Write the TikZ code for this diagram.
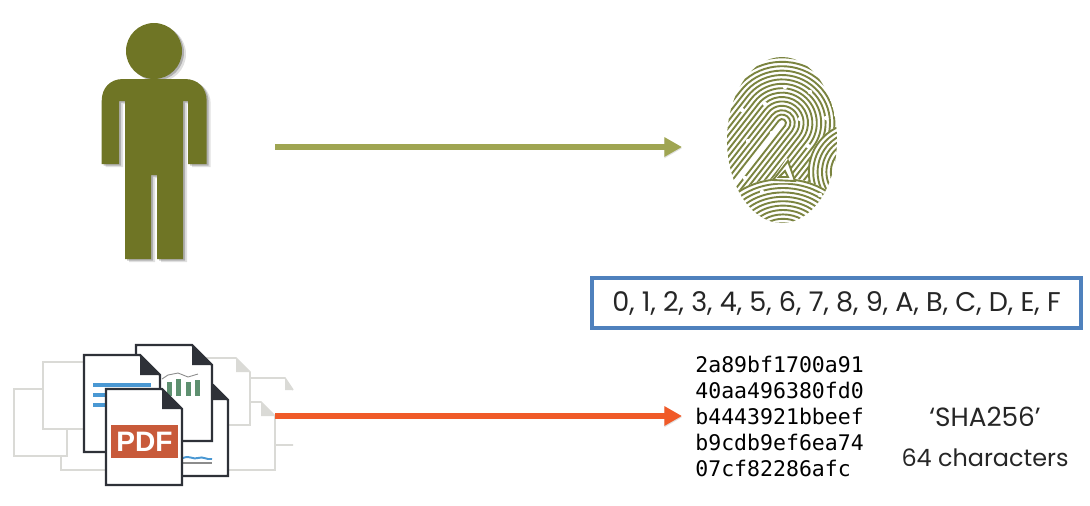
\documentclass[tikz,border=0pt]{standalone}
\usepackage{fontspec}
\setmainfont{Poppins}
\newfontfamily\hashfont{DejaVu Sans Mono}
\newfontfamily\badgefont{Liberation Sans}
\usetikzlibrary{arrows.meta,shadows}

\definecolor{olivebody}{HTML}{6F7525}
\definecolor{ridgegreen}{HTML}{7B8440}
\definecolor{arrowgreen}{HTML}{9FA552}
\definecolor{arroworange}{HTML}{F05A28}
\definecolor{boxblue}{HTML}{4F81BD}
\definecolor{pagegrey}{HTML}{DADAD6}
\definecolor{pagedark}{HTML}{2E3138}
\definecolor{pdfred}{HTML}{C85A3A}
\definecolor{barblue}{HTML}{4A98D3}
\definecolor{bargreen}{HTML}{5E9070}

% style, left, top, right, bottom, fold
\newcommand{\docpage}[6]{%
  \draw [#1] (#2,#3) -- (#4-#6,#3) -- (#4,#3+#6) -- (#4,#5) -- (#2,#5) -- cycle;
  \fill [#1, draw=none, fill=foldcolor] (#4-#6,#3) -- (#4-#6,#3+#6) -- (#4,#3+#6) -- cycle;
}
\newcommand{\personshape}{%
  (101.7,164) -- (101.7,101) .. controls (101.7,88) and (110,79) .. (123,79)
  -- (185,79) .. controls (198,79) and (206.7,88) .. (206.7,101)
  -- (206.7,164) -- (188,164) -- (188,101) -- (183,101) -- (183,259)
  -- (157,259) -- (157,175) -- (151,175) -- (151,259) -- (125,259)
  -- (125,101) -- (119,101) -- (119,164) -- cycle
  (154,51) circle [radius=28]
}

\begin{document}
\begin{tikzpicture}[x=0.02cm, y=-0.02cm]

    \tikzset{flowarrow/.style={%
      line width=3.2pt,%
      -{Triangle[length=10pt,width=10.5pt]},%
      preaction={draw=black!35, opacity=0.35,%
        transform canvas={yshift=-0.8pt}}}%
    };
    \tikzset{greypage/.style={draw=pagegrey, fill=white, line width=0.9pt}};
    \tikzset{darkpage/.style={draw=pagedark, fill=white, line width=1.3pt}};
    \tikzset{ridge/.style={draw=ridgegreen, line width=1.08pt}};
    \tikzset{label/.style={font=\fontsize{13.6}{16}\selectfont, inner sep=0pt, text=black!85}};
    \colorlet{foldcolor}{pagegrey}

    \useasboundingbox (0,0) rectangle (1090,505);

    %%%%%%%%%%%%%%%
    %   person    %
    %%%%%%%%%%%%%%%
    \fill [black, opacity=0.12] [shift={(4,3)}] \personshape;
    \fill [black, opacity=0.22] [shift={(2,1.5)}] \personshape;
    \fill [olivebody] \personshape;

    %%%%%%%%%%%%%%%
    % fingerprint %
    %%%%%%%%%%%%%%%
    \begin{scope}
      \clip (782,140) ellipse [x radius=55, y radius=83];
      \begin{scope}[shift={(782,123)}, rotate=52]
        \foreach \r in {4,8.4,...,68}
          \draw [ridge] (-200,\r) -- (0,\r) arc [start angle=90, end angle=-90, radius=\r] -- (-200,-\r);
      \end{scope}
      \fill [white] (858,172) circle [radius=50];
      \foreach \r in {14,18.4,...,50}
        \draw [ridge] (858,172) circle [radius=\r];
      \fill [white] (783,232) ellipse [x radius=68, y radius=54];
      \foreach \k in {1,...,12}
        \draw [ridge] (783,232) ellipse [x radius={6+5.2*\k}, y radius={4.4*\k}];
      \foreach \x/\y in {742/77, 785/87, 810/92, 742/110, 765/104,
          800/119, 826/118, 772/133, 748/141, 808/146, 745/178, 820/195, 762/192}
        \fill [white] (\x,\y) circle [radius=2.2];
    \end{scope}
    \fill [white] (787,158) -- (796,183) -- (770,183) -- cycle;
    \draw [ridge] (788,161) -- (795,181) -- (773,180) -- cycle;
    \draw [ridge] (785,171) -- (788,177) -- (779,177) -- cycle;

    %%%%%%%%%%%%%%%
    %  documents  %
    %%%%%%%%%%%%%%%
    \draw [draw=pagegrey, line width=0.9pt] (250,378) -- (285,378) -- (293,390) (250,445) -- (293,445);
    \fill [pagegrey] (285,378) -- (285,390) -- (293,390) -- cycle;
    \docpage{greypage}{61}{402}{275}{470}{14}
    \docpage{greypage}{14}{389}{67}{456}{0}
    \docpage{greypage}{43}{362}{100}{429}{0}
    \docpage{greypage}{150}{358}{250}{425}{14}

    \colorlet{foldcolor}{pagedark}
    \docpage{darkpage}{160}{385}{228}{476}{15}
    \draw [barblue, line width=1.1pt] (183,458) .. controls (190,455) and (193,460) .. (198,458)
      .. controls (203,456) and (206,460) .. (212,459);
    \draw [black!45, line width=0.7pt] (183,463) -- (212,463);

    \docpage{darkpage}{136}{345}{212}{441}{20}
    \foreach \x/\y in {167/382, 176/379, 186/382, 195/380}
      \fill [bargreen] (\x,\y) rectangle (\x+5,396);
    \draw [black!45, line width=0.5pt] (162,379) -- (168,375) -- (178,373) -- (188,377) -- (198,374);

    \docpage{darkpage}{84}{355}{160}{452}{20}
    \fill [barblue] (93,383) rectangle (151,387);
    \fill [barblue] (93,393) rectangle (107,397);
    \fill [barblue] (93,403) rectangle (107,407);

    \docpage{darkpage}{106}{389}{182}{485}{20}
    \path (144.5,441.5) node [rectangle, fill=pdfred, minimum width=67*0.02cm,
      minimum height=33*0.02cm, inner sep=0pt, text=white,
      font=\badgefont\fontsize{16}{20}\selectfont\bfseries] (pdfbadge) {PDF};

    %%%%%%%%%%%%%%%
    %    texts    %
    %%%%%%%%%%%%%%%
    \path (836.5,303) node [label, font=\fontsize{15.4}{18}\selectfont, rectangle,
      draw=boxblue, fill=white, line width=1.8pt,
      minimum width=489*0.02cm, minimum height=50*0.02cm,
      drop shadow={shadow xshift=0.6pt, shadow yshift=-1pt, opacity=0.4, fill=black}] (hexset)
      {0, 1, 2, 3, 4, 5, 6, 7, 8, 9, A, B, C, D, E, F};
    \path (695,416) node [anchor=west, align=left, inner sep=0pt,
      font=\hashfont\fontsize{12.25}{14.8}\selectfont] (hashvalue)
      {2a89bf1700a91\\40aa496380fd0\\b4443921bbeef\\b9cdb9ef6ea74\\07cf82286afc};
    \path (985,417) node [label, font=\fontsize{15}{18}\selectfont] (shaname) {‘SHA256’};
    \path (985,458) node [label] (charcount) {64 characters};

    %%%%%%%%%%%%%%%
    %   arrows    %
    %%%%%%%%%%%%%%%
    \path (275,147) coordinate (personport);
    \path (682,147) coordinate (printport);
    \path (275,416) coordinate (docsport);
    \path (682,416) coordinate (hashport);

    \draw [flowarrow, draw=arrowgreen, fill=arrowgreen] (personport) -- (printport);
    \draw [flowarrow, draw=arroworange, fill=arroworange] (docsport) -- (hashport);

  \end{tikzpicture}
\end{document}
